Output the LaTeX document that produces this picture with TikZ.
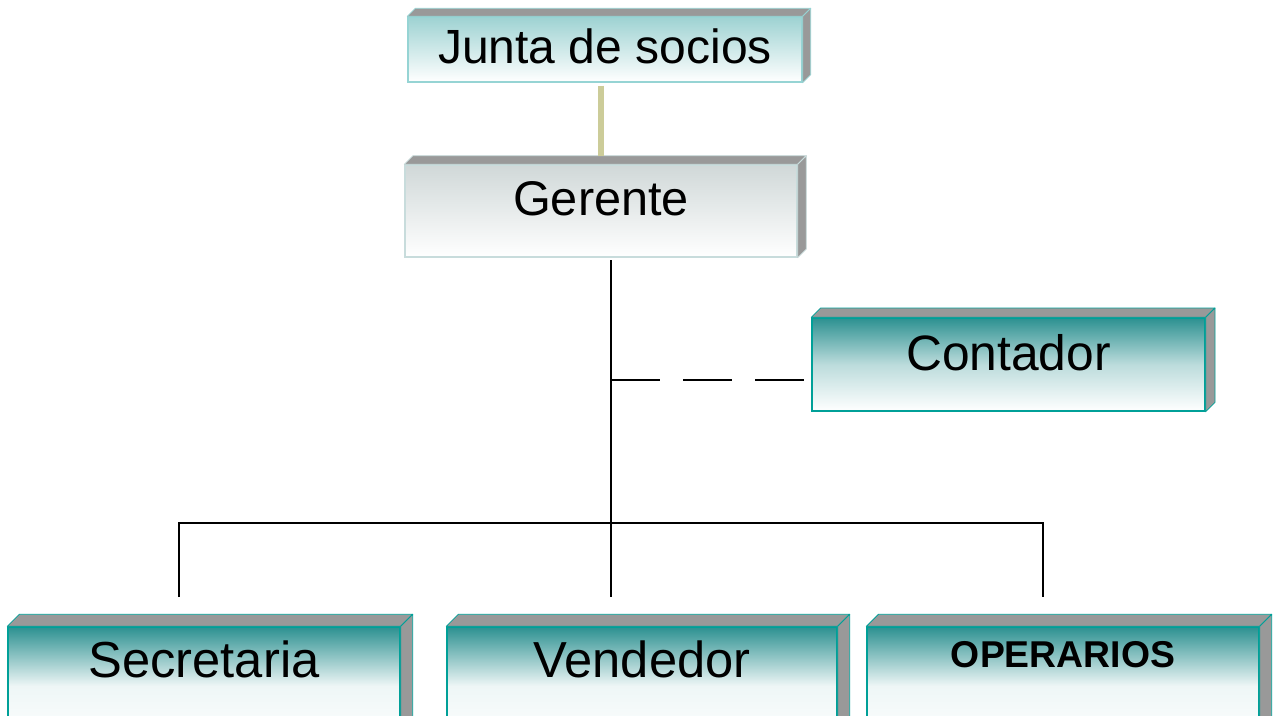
\documentclass[tikz,border=0pt]{standalone}
\usepackage{fontspec}
\setmainfont{Liberation Sans}
\definecolor{tealD}{RGB}{45,145,145}
\definecolor{tealB}{RGB}{0,160,152}
\definecolor{bevelG}{RGB}{153,153,153}
\definecolor{juntaT}{RGB}{158,210,210}
\definecolor{juntaB}{RGB}{150,212,212}
\definecolor{gerT}{RGB}{208,216,216}
\definecolor{gerB}{RGB}{200,220,220}
\definecolor{khaki}{RGB}{204,204,153}
\newcommand\bevelbox[3]{%
  \filldraw[fill=bevelG, draw=#3, line width=0.6pt, line join=round]
    (#1.north west) -- ++(#2,#2) -- ([shift={(#2,#2)}]#1.north east) -- (#1.north east) -- cycle;
  \filldraw[fill=bevelG, draw=#3, line width=0.6pt, line join=round]
    (#1.north east) -- ++(#2,#2) -- ([shift={(#2,#2)}]#1.south east) -- (#1.south east) -- cycle;}
\tikzset{
  box/.style={rectangle, inner sep=0pt, line width=1pt, font=\fontsize{36}{40}\selectfont},
  tealbox/.style={box, draw=tealB, top color=tealD, bottom color=white, middle color=tealD!32!white},
  lowbox/.style={box, draw=tealB, top color=tealD, bottom color=white, middle color=tealD!8!white, font=\fontsize{38}{42}\selectfont},
  juntabox/.style={box, draw=juntaB, top color=juntaT, bottom color=white},
  gerbox/.style={box, draw=gerB, top color=gerT, bottom color=white},
  conn/.style={line width=1.4pt, black},
}
\begin{document}
\begin{tikzpicture}[x=0.75pt, y=-0.75pt]
\useasboundingbox (0,0) rectangle (1282,715);
\clip (0,0) rectangle (1282,715);
% boxes
\node[juntabox, minimum width=295.5pt, text height=34.5pt, text depth=14.25pt] (junta) at (605,49.5) {Junta de socios};
\bevelbox{junta}{6pt}{juntaB}
\node[gerbox, minimum width=294pt, text height=37.5pt, text depth=31.5pt, font=\fontsize{36.5}{40}\selectfont] (ger) at (601,211) {Gerente};
\bevelbox{ger}{6.5pt}{gerB}
\node[tealbox, minimum width=294.75pt, text height=39pt, text depth=30.75pt, font=\fontsize{37.3}{41}\selectfont] (cont) at (1008.5,364.5) {Contador};
\bevelbox{cont}{7pt}{tealB}
\node[lowbox, minimum width=294pt, text height=37.5pt, text depth=51pt] (sec) at (204,686) {Secretaria};
\bevelbox{sec}{9pt}{tealB}
\node[lowbox, minimum width=292.5pt, text height=37.5pt, text depth=51pt] (ven) at (642,686) {Vendedor};
\bevelbox{ven}{9pt}{tealB}
\node[lowbox, minimum width=294pt, text height=30pt, text depth=58.5pt, font=\fontsize{28}{32}\selectfont\bfseries] (ope) at (1063,686) {OPERARIOS};
\bevelbox{ope}{9pt}{tealB}
% connectors
\draw[khaki, line width=4.3pt] ([yshift=-2.25pt]junta.south -| ger.north) -- ([yshift=6pt]ger.north);
\coordinate (gtop) at (611,260);
\coordinate (dashA) at (611,380);
\coordinate (hub) at (611,523);
\coordinate (secT) at (179,597);
\coordinate (venT) at (611,597);
\coordinate (opeT) at (1043,597);
\draw[conn] (gtop) -- (venT);
\draw[conn] (secT) |- (hub) -| (opeT);
\draw[conn, dash pattern=on 36.75pt off 17.25pt] (dashA) -- ([xshift=-5.25pt]dashA -| cont.west);
\end{tikzpicture}
\end{document}
